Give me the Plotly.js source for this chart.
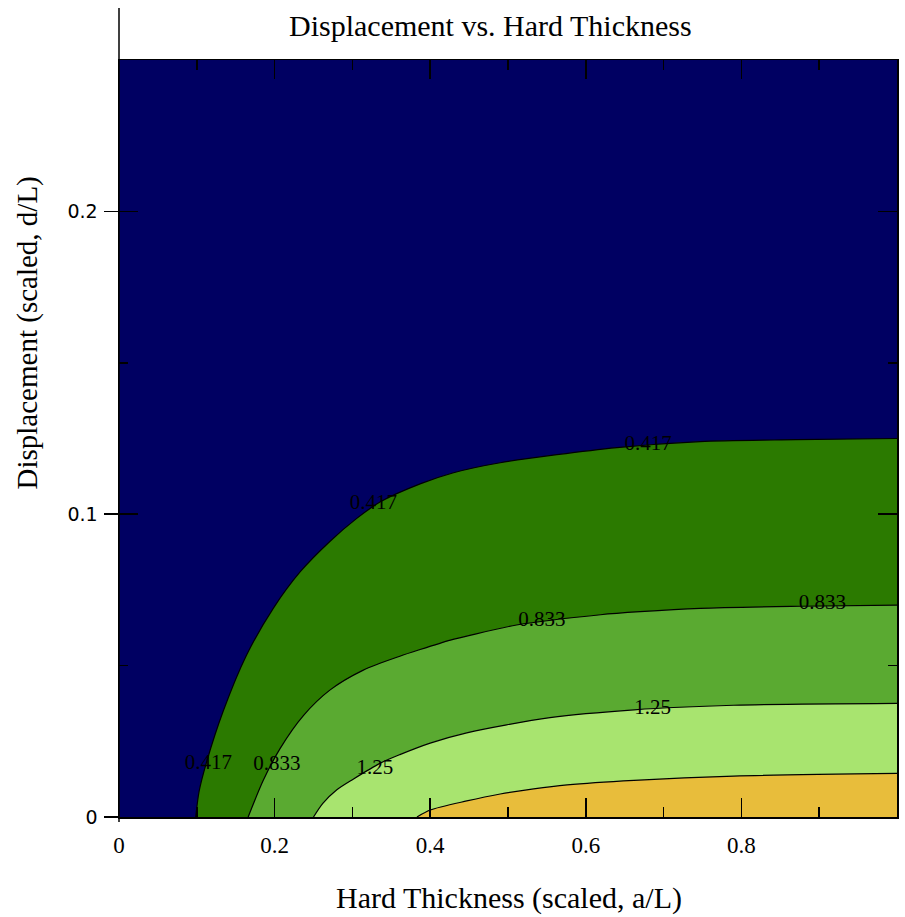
<!DOCTYPE html>
<html>
<head>
<meta charset="utf-8">
<script src="https://cdn.plot.ly/plotly-3.0.1.min.js"></script>
<style>html,body{margin:0;padding:0;background:#fff;}#chart{width:905px;height:917px;}</style>
</head>
<body>
<div id="chart"></div>
<script>
// Contour boundary curves (x = a/L, y = d/L)
const levels = [0.417, 0.833, 1.25, 1.667];
const c417x = [0.0986, 0.103, 0.113, 0.134, 0.164, 0.1985, 0.233, 0.271, 0.306, 0.336, 0.387, 0.430, 0.490, 0.640, 0.747, 0.870, 1.000];
const c417y = [0.000, 0.0085, 0.0185, 0.0350, 0.0535, 0.0690, 0.0810, 0.0910, 0.0987, 0.1041, 0.1100, 0.1137, 0.1170, 0.1220, 0.1240, 0.1246, 0.1250];
const c833x = [0.166, 0.1856, 0.207, 0.237, 0.271, 0.314, 0.361, 0.387, 0.426, 0.451, 0.511, 0.619, 0.670, 0.747, 0.876, 1.000];
const c833y = [0.000, 0.0122, 0.0226, 0.0335, 0.0419, 0.0485, 0.0531, 0.0553, 0.0584, 0.0600, 0.0634, 0.0668, 0.0678, 0.0689, 0.0696, 0.0700];
const c125x = [0.250, 0.262, 0.280, 0.301, 0.336, 0.361, 0.400, 0.447, 0.554, 0.662, 0.790, 1.000];
const c125y = [0.000, 0.0045, 0.0090, 0.0125, 0.0178, 0.0206, 0.0244, 0.0278, 0.0328, 0.0354, 0.0369, 0.0375];
const c167x = [0.383, 0.400, 0.447, 0.490, 0.533, 0.576, 0.662, 0.790, 1.000];
const c167y = [0.000, 0.0023, 0.0053, 0.0076, 0.0093, 0.0106, 0.0121, 0.0135, 0.0144];

const bandColors = ['#2b7a00', '#5aaa31', '#a8e46f', '#e8bd3b'];
const bgColor = '#000062';

// Contour label positions
const labelText = ['0.417', '0.417', '0.417', '0.833', '0.833', '0.833', '1.25', '1.25'];
const labelX = [0.327, 0.680, 0.115, 0.203, 0.5435, 0.904, 0.329, 0.686];
const labelY = [0.1035, 0.123, 0.0177, 0.0172, 0.0648, 0.0703, 0.0161, 0.0356];

const xTicks = [0, 0.2, 0.4, 0.6, 0.8];
const yTicks = [0, 0.1, 0.2];

const curves = [[c417x, c417y], [c833x, c833y], [c125x, c125y], [c167x, c167y]];
const traces = curves.map((c, i) => ({
  type: 'scatter', mode: 'lines', x: c[0], y: c[1],
  line: {color: '#000', width: 1.2, shape: 'spline', smoothing: 0.8},
  fill: 'tozeroy', fillcolor: bandColors[i],
  name: String(levels[i]), hoverinfo: 'skip', showlegend: false
}));
traces.push({type: 'scatter', mode: 'text', x: labelX, y: labelY, text: labelText,
  textfont: {family: 'Liberation Serif, Times New Roman, serif', size: 21, color: '#000'},
  hoverinfo: 'skip', showlegend: false});
traces.push({type: 'scatter', mode: 'lines', x: [null], y: [null], yaxis: 'y2', showlegend: false, hoverinfo: 'skip'});

const serif = 'Liberation Serif, Times New Roman, serif';
const layout = {
  width: 905, height: 917,
  margin: {l: 119, r: 8, t: 60, b: 100, pad: 0},
  paper_bgcolor: '#fff', plot_bgcolor: bgColor,
  font: {family: serif, color: '#000'},
  showlegend: false,
  xaxis: {
    range: [0, 1], tickvals: xTicks, ticktext: xTicks.map(String),
    ticks: 'inside', ticklen: 19, tickwidth: 1.5, tickcolor: '#000',
    minor: {dtick: 0.1, ticks: 'inside', ticklen: 10, tickwidth: 1.5, tickcolor: '#000', showgrid: false},
    showline: true, linecolor: '#000', linewidth: 1.5, mirror: 'ticks',
    showgrid: false, zeroline: false, ticklabelstandoff: 7,
    tickfont: {family: serif, size: 23, color: '#000'}
  },
  yaxis: {
    range: [0, 0.25], tickvals: yTicks, ticktext: yTicks.map(String),
    ticks: 'inside', ticklen: 19, tickwidth: 1.5, tickcolor: '#000',
    minor: {dtick: 0.05, ticks: 'inside', ticklen: 9, tickwidth: 1.5, tickcolor: '#000', showgrid: false},
    showline: true, linecolor: '#000', linewidth: 1.5, mirror: 'ticks',
    showgrid: false, zeroline: false, ticklabelstandoff: 16,
    tickfont: {family: 'DejaVu Sans, sans-serif', size: 19, color: '#000'}
  },
  yaxis2: {
    overlaying: 'y', side: 'left', range: [0, 0.25], tickvals: yTicks,
    ticks: 'outside', ticklen: 14, tickwidth: 1.5, tickcolor: '#000',
    showticklabels: false, showline: false, showgrid: false, zeroline: false
  },
  annotations: [
    {text: 'Displacement vs. Hard Thickness', xref: 'paper', yref: 'paper', x: 0.477, y: 1.046,
     xanchor: 'center', yanchor: 'middle', showarrow: false, font: {family: serif, size: 30, color: '#000'}},
    {text: 'Hard Thickness (scaled, a/L)', xref: 'paper', yref: 'paper', x: 0.501, y: -0.107,
     xanchor: 'center', yanchor: 'middle', showarrow: false, font: {family: serif, size: 30, color: '#000'}},
    {text: 'Displacement (scaled, d/L)', xref: 'paper', yref: 'paper', x: -0.118, y: 0.639, textangle: -90,
     xanchor: 'center', yanchor: 'middle', showarrow: false, font: {family: serif, size: 29, color: '#000'}}
  ],
  shapes: [
    {type: 'line', xref: 'paper', yref: 'paper', x0: 0, x1: 0, y0: -0.0066, y1: 1.0687,
     line: {color: '#000', width: 1.5}}
  ]
};
Plotly.newPlot('chart', traces, layout, {displayModeBar: false, staticPlot: true});
</script>
</body>
</html>
